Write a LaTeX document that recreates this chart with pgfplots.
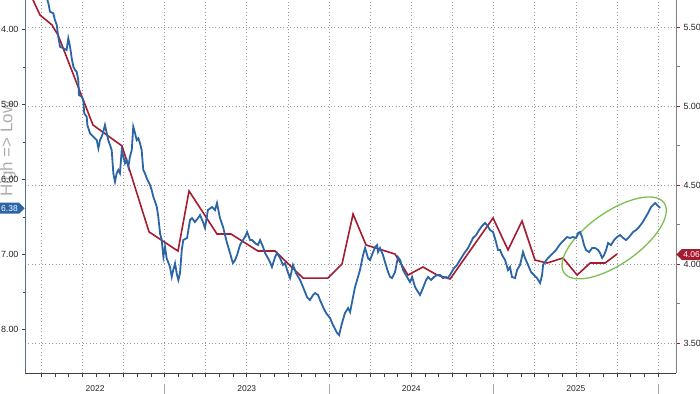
\documentclass[border=0pt]{standalone}
\usepackage{pgfplots}
\pgfplotsset{compat=1.18}
\usepackage{fontspec}
\setmainfont{Liberation Sans}
\usetikzlibrary{shapes.symbols}
\definecolor{bblue}{HTML}{2B65A8}
\definecolor{bred}{HTML}{A51C30}
\definecolor{bgreen}{HTML}{7DBE4E}
\definecolor{gridc}{HTML}{9A9A9A}
\begin{document}
\begin{tikzpicture}
\useasboundingbox (0,0) rectangle (700bp,394bp);
% ---------------- right axis (red), x axis, grid ----------------
\begin{axis}[
  at={(25bp,21bp)}, anchor=south west, width=651bp, height=373bp, scale only axis,
  xmin=2022.152, xmax=2026.109, ymin=3.310, ymax=5.671,
  clip mode=individual,
  axis x line*=bottom, axis y line*=right,
  x axis line style={-, draw=black!75, line width=0.8bp},
  y axis line style={-, draw=gray, line width=0.8bp},
  tick align=outside,
  major tick length=4bp, minor tick length=4bp,
  xtick={2022.25,2022.5,2022.75,2023,2023.25,2023.5,2023.75,2024,2024.25,2024.5,2024.75,2025,2025.25,2025.5,2025.75,2026},
  minor x tick num=2,
  xticklabels={},
  xmajorgrids, grid style={gridc, line width=0.6bp, dash pattern=on 0.8bp off 2.6bp},
  xtick style={black!75, line width=0.6bp},
  extra x ticks={2022.578,2023.5,2024.5,2025.5},
  extra x tick labels={2022,2023,2024,2025},
  extra x tick style={major tick length=0pt, grid=none, xticklabel style={font=\fontsize{8.5}{10}\selectfont, text=black!85, yshift=-9bp}},
  ytick={3.5,4,4.5,5,5.5},
  minor y tick num=1,
  ymajorgrids,
  ytick style={bred, line width=0.9bp},
  minor y tick style={gray},
  yticklabel style={font=\fontsize{9}{10}\selectfont, text=black!85, /pgf/number format/.cd, fixed, fixed zerofill, precision=2, assume math mode=true},
]
\node[rotate=90, text=black!32, font=\fontsize{17}{18}\selectfont] at (axis description cs:-0.026,0.6) {High => Low};
\addplot[bred, line width=1.6bp] coordinates {
(2022.152,5.779) (2022.201,5.671) (2022.243,5.576) (2022.316,5.513) (2022.353,5.449)
(2022.565,4.880) (2022.742,4.747) (2022.906,4.203) (2023.082,4.082) (2023.149,4.462)
(2023.319,4.190) (2023.404,4.190) (2023.568,4.082) (2023.672,4.082) (2023.842,3.911)
(2023.994,3.911) (2024.079,4.000) (2024.146,4.316) (2024.225,4.120) (2024.401,4.063)
(2024.480,3.930) (2024.571,3.981) (2024.657,3.930) (2024.736,3.905) (2024.997,4.291)
(2025.088,4.089) (2025.173,4.272) (2025.252,4.025) (2025.325,4.006) (2025.422,4.038)
(2025.508,3.930) (2025.587,4.006) (2025.678,4.006) (2025.751,4.063)
};
\coordinate (ec) at (axis cs:2025.733,4.165);
\draw[bgreen, line width=1.3bp, rotate around={35:(ec)}] (ec) ellipse [x radius=61bp, y radius=26bp];
\pgfplotsinvokeforeach{2023,2024,2025,2026}{
  \draw[black!35, line width=1bp] ([yshift=-11bp]axis cs:#1,3.310) -- ([yshift=-22bp]axis cs:#1,3.310);
}
\node[signal, signal to=west, fill=bred, text=white, font=\fontsize{8.5}{9}\selectfont, inner xsep=1.5bp, inner ysep=2.5bp, anchor=west] at (axis cs:2026.109,4.06) {4.06};
\end{axis}
% ---------------- left axis (blue, inverted) ----------------
\begin{axis}[
  at={(25bp,21bp)}, anchor=south west, width=651bp, height=373bp, scale only axis,
  xmin=2022.152, xmax=2026.109, ymin=3.604, ymax=8.577, y dir=reverse,
  clip mode=individual,
  axis x line=none, axis y line*=left,
  y axis line style={-, draw=bblue!55!gray, line width=0.8bp},
  tick align=outside,
  major tick length=3bp, minor tick length=2.5bp,
  ytick={4,5,6,7,8},
  minor y tick num=1,
  ytick style={black!75, line width=0.7bp},
  yticklabel style={font=\fontsize{9}{10}\selectfont, text=black!85, /pgf/number format/.cd, fixed, fixed zerofill, precision=2, assume math mode=true},
]
\addplot[bblue, line width=1.8bp] coordinates {
(2022.274,3.497) (2022.294,3.648) (2022.304,3.760) (2022.324,3.781) (2022.334,3.871)
(2022.345,3.937) (2022.354,4.093) (2022.365,4.227) (2022.385,4.248) (2022.405,4.271)
(2022.415,4.115) (2022.426,4.227) (2022.436,4.381) (2022.446,4.493) (2022.456,4.537)
(2022.466,4.560) (2022.476,4.671) (2022.480,4.871) (2022.497,4.893) (2022.506,4.937)
(2022.512,5.115) (2022.527,5.160) (2022.531,5.271) (2022.547,5.381) (2022.567,5.427)
(2022.588,5.471) (2022.598,5.581) (2022.608,5.471) (2022.618,5.427) (2022.628,5.360)
(2022.638,5.271) (2022.649,5.381) (2022.658,5.471) (2022.679,5.604) (2022.689,5.915)
(2022.699,6.027) (2022.709,5.915) (2022.719,5.871) (2022.729,5.915) (2022.740,5.604)
(2022.750,5.693) (2022.760,5.781) (2022.770,5.737) (2022.780,5.827) (2022.790,5.693)
(2022.801,5.604) (2022.810,5.293) (2022.821,5.381) (2022.831,5.471) (2022.841,5.448)
(2022.851,5.515) (2022.861,5.604) (2022.871,5.871) (2022.881,5.915) (2022.892,5.981)
(2022.912,6.071) (2022.922,6.137) (2022.932,6.227) (2022.953,6.360) (2022.962,6.493)
(2022.973,6.715) (2022.983,6.804) (2022.993,7.027) (2023.003,6.893) (2023.013,7.048)
(2023.033,7.160) (2023.044,7.293) (2023.053,7.204) (2023.064,7.115) (2023.074,7.248)
(2023.084,7.337) (2023.094,7.248) (2023.105,6.937) (2023.114,6.804) (2023.137,6.777)
(2023.155,6.537) (2023.167,6.511) (2023.185,6.564) (2023.204,6.511) (2023.216,6.471)
(2023.234,6.564) (2023.246,6.644) (2023.264,6.404) (2023.289,6.364) (2023.307,6.404)
(2023.319,6.311) (2023.337,6.511) (2023.356,6.631) (2023.380,6.844) (2023.398,6.977)
(2023.410,7.071) (2023.416,7.111) (2023.429,7.071) (2023.441,7.004) (2023.459,6.871)
(2023.477,6.804) (2023.489,6.764) (2023.502,6.697) (2023.520,6.804) (2023.532,6.804)
(2023.550,6.844) (2023.568,6.871) (2023.581,6.804) (2023.599,6.897) (2023.611,6.977)
(2023.629,7.044) (2023.641,7.097) (2023.653,7.164) (2023.672,7.031) (2023.684,6.977)
(2023.702,7.044) (2023.720,7.137) (2023.733,7.111) (2023.745,7.204) (2023.763,7.311)
(2023.781,7.137) (2023.799,7.244) (2023.824,7.337) (2023.842,7.431) (2023.866,7.564)
(2023.884,7.604) (2023.903,7.537) (2023.915,7.511) (2023.933,7.537) (2023.945,7.604)
(2023.964,7.697) (2023.982,7.777) (2024.006,7.844) (2024.024,7.937) (2024.049,8.044)
(2024.061,8.071) (2024.079,7.911) (2024.097,7.777) (2024.116,7.711) (2024.128,7.764)
(2024.146,7.564) (2024.158,7.431) (2024.176,7.297) (2024.188,7.204) (2024.207,7.004)
(2024.219,6.911) (2024.237,7.044) (2024.249,7.071) (2024.261,7.004) (2024.280,6.897)
(2024.292,6.871) (2024.298,6.964) (2024.310,6.911) (2024.328,7.004) (2024.340,7.097)
(2024.359,7.231) (2024.371,7.297) (2024.383,7.311) (2024.401,7.231) (2024.413,7.097)
(2024.419,7.031) (2024.432,7.071) (2024.450,7.204) (2024.474,7.297) (2024.492,7.364)
(2024.505,7.297) (2024.523,7.431) (2024.541,7.497) (2024.553,7.537) (2024.571,7.444)
(2024.590,7.337) (2024.602,7.297) (2024.620,7.337) (2024.638,7.297) (2024.657,7.271)
(2024.675,7.271) (2024.693,7.311) (2024.711,7.297) (2024.723,7.311) (2024.742,7.244)
(2024.760,7.177) (2024.778,7.137) (2024.796,7.071) (2024.815,7.004) (2024.827,6.964)
(2024.845,6.911) (2024.863,6.831) (2024.875,6.777) (2024.894,6.737) (2024.912,6.671)
(2024.930,6.617) (2024.948,6.577) (2024.960,6.604) (2024.979,6.671) (2024.997,6.697)
(2025.015,6.831) (2025.027,6.937) (2025.040,6.937) (2025.052,7.004) (2025.070,7.071)
(2025.088,7.204) (2025.100,7.164) (2025.112,7.297) (2025.131,7.311) (2025.143,7.204)
(2025.161,7.137) (2025.179,6.964) (2025.191,7.044) (2025.210,7.137) (2025.228,7.231)
(2025.246,7.271) (2025.264,7.311) (2025.283,7.377) (2025.295,7.271) (2025.301,7.137)
(2025.313,7.097) (2025.331,7.044) (2025.350,7.004) (2025.368,6.964) (2025.380,6.937)
(2025.392,6.897) (2025.410,6.844) (2025.429,6.804) (2025.447,6.764) (2025.465,6.777)
(2025.483,6.764) (2025.502,6.777) (2025.514,6.711) (2025.526,6.697) (2025.538,6.764)
(2025.550,6.871) (2025.562,6.937) (2025.581,6.964) (2025.599,6.911) (2025.617,6.911)
(2025.635,6.937) (2025.647,6.977) (2025.660,7.044) (2025.672,7.004) (2025.684,6.937)
(2025.696,6.844) (2025.714,6.871) (2025.733,6.804) (2025.751,6.764) (2025.769,6.737)
(2025.787,6.777) (2025.805,6.804) (2025.824,6.764) (2025.848,6.697) (2025.866,6.671)
(2025.884,6.631) (2025.903,6.577) (2025.921,6.511) (2025.939,6.444) (2025.957,6.364)
(2025.970,6.337) (2025.982,6.311) (2025.994,6.337) (2026.012,6.377)
};
\node[signal, signal to=east, fill=bblue, text=white, font=\fontsize{8.5}{9}\selectfont, inner xsep=1.5bp, inner ysep=2.5bp, anchor=east] at (axis cs:2022.152,6.38) {6.38};
\end{axis}
\end{tikzpicture}
\end{document}
